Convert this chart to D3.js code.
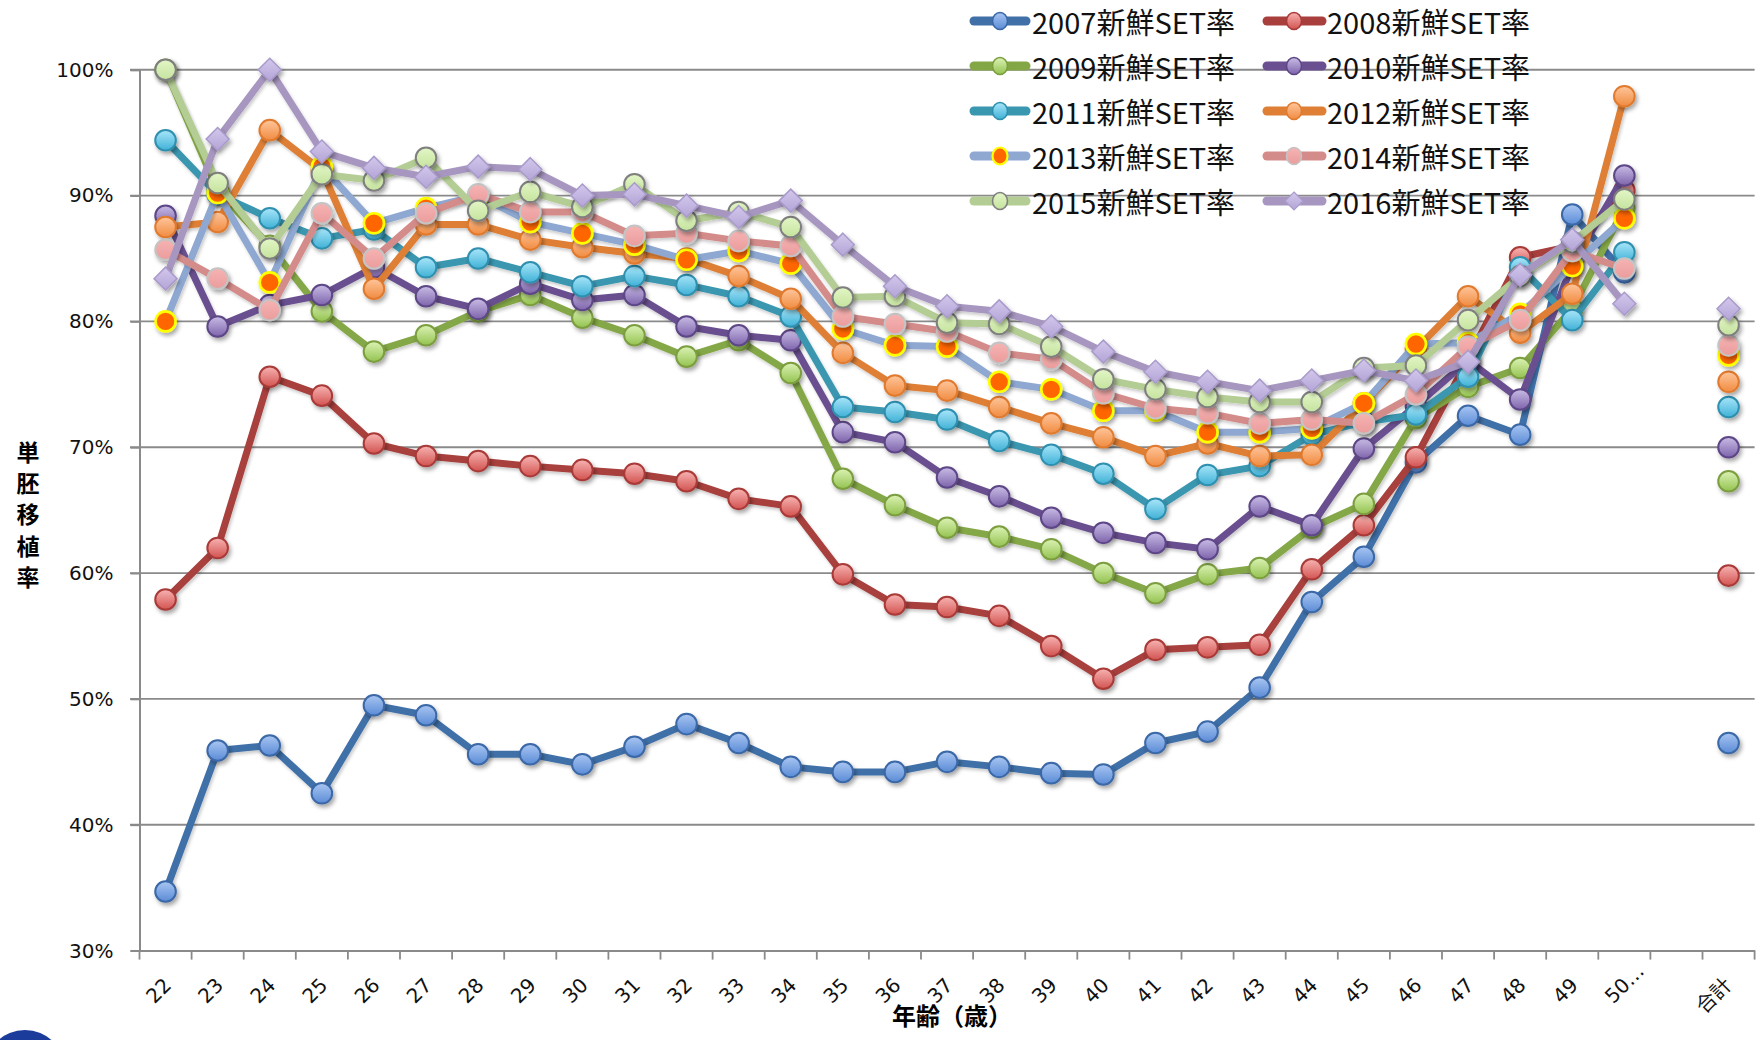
<!DOCTYPE html>
<html><head><meta charset="utf-8">
<script src="https://cdn.jsdelivr.net/npm/d3@7"></script>
<style>body{margin:0;background:#fff;}</style></head>
<body><svg id="c" width="1764" height="1040"></svg>
<script>
// ---- data ----
const categories = ["22","23","24","25","26","27","28","29","30","31","32","33","34","35","36","37","38","39","40","41","42","43","44","45","46","47","48","49","50…","","合計"];
const yTicks = [30,40,50,60,70,80,90,100];
const seriesNames = ["2007新鮮SET率","2008新鮮SET率","2009新鮮SET率","2010新鮮SET率","2011新鮮SET率","2012新鮮SET率","2013新鮮SET率","2014新鮮SET率","2015新鮮SET率","2016新鮮SET率"];

const s2007 = [34.7,45.9,46.3,42.5,49.5,48.7,45.6,45.6,44.8,46.2,48.0,46.5,44.6,44.2,44.2,45.0,44.6,44.1,44.0,46.5,47.4,50.9,57.7,61.3,68.8,72.5,71.0,88.5,83.9];
const s2008 = [57.9,62.0,75.6,74.1,70.3,69.3,68.9,68.5,68.2,67.9,67.3,65.9,65.3,59.9,57.5,57.3,56.6,54.2,51.6,53.9,54.1,54.3,60.3,63.8,69.2,77.0,85.1,86.0,90.4];
const s2009 = [100,90.4,86.0,80.8,77.6,78.9,80.8,82.1,80.3,78.9,77.2,78.5,75.9,67.5,65.4,63.6,62.9,61.9,60.0,58.4,59.9,60.4,63.6,65.5,72.3,74.8,76.3,81.0,89.0];
const s2010 = [88.4,79.6,81.3,82.1,84.3,82.0,81.0,83.0,81.7,82.1,79.6,78.9,78.5,71.2,70.4,67.6,66.1,64.4,63.2,62.4,61.9,65.3,63.8,69.9,73.3,76.9,73.8,84.5,91.6];
const s2011 = [94.4,90.1,88.2,86.6,87.3,84.3,85.0,83.9,82.8,83.6,82.9,82.0,80.4,73.2,72.8,72.2,70.5,69.4,67.9,65.1,67.8,68.5,71.0,72.0,72.6,75.6,84.3,80.1,85.5];
const s2012 = [87.5,87.9,95.2,92.0,82.6,87.7,87.7,86.5,85.9,85.4,85.0,83.6,81.8,77.5,74.9,74.5,73.2,71.9,70.8,69.3,70.3,69.3,69.4,73.5,77.8,82.0,79.1,82.2,97.9];
const s2013 = [80.0,90.2,83.1,92.3,87.8,89.0,90.0,87.9,87.0,86.1,84.9,85.6,84.6,79.4,78.1,78.0,75.2,74.6,72.9,72.9,71.2,71.2,71.5,73.5,78.2,78.3,80.6,84.4,88.2];
const s2014 = [85.7,83.4,80.9,88.6,85.0,88.6,90.1,88.7,88.7,86.8,87.0,86.4,86.0,80.4,79.8,79.2,77.5,77.0,74.3,73.1,72.7,71.9,72.2,71.9,74.2,78.0,80.1,85.6,84.2];
const s2015 = [100,91.0,85.8,91.7,91.2,93.0,88.8,90.3,89.1,90.9,88.0,88.7,87.5,81.9,82.0,79.9,79.8,78.0,75.4,74.6,74.0,73.6,73.6,76.3,76.5,80.1,83.6,86.3,89.7];
const s2016 = [83.4,94.5,100,93.5,92.2,91.5,92.3,92.1,90.0,90.1,89.2,88.3,89.6,86.1,82.8,81.2,80.8,79.6,77.6,76.0,75.2,74.5,75.3,76.1,75.3,76.8,83.7,86.5,81.4];
const totals = [46.5,59.8,67.3,70.0,73.2,75.2,77.3,78.1,79.7,81.0];

// ---- styles ----
const styles = [
  {line:"#4170a8", top:"#a9c6f2", bot:"#5a8bd6", stroke:"#3a67a6", shape:"circle"},
  {line:"#a83f3c", top:"#f7b4b3", bot:"#d2524f", stroke:"#a83a38", shape:"circle"},
  {line:"#84a746", top:"#dcf3b5", bot:"#93c24f", stroke:"#7b9e3f", shape:"circle"},
  {line:"#6a5090", top:"#c9bde6", bot:"#7d63ab", stroke:"#5d4686", shape:"circle"},
  {line:"#3a97b0", top:"#a9e6fa", bot:"#3fb1d6", stroke:"#2f8fae", shape:"circle"},
  {line:"#de7f35", top:"#ffc69c", bot:"#f08b40", stroke:"#e07a2e", shape:"circle"},
  {line:"#8ea8d1", top:"#ff6600", bot:"#ff6600", stroke:"#ffff00", shape:"circle"},
  {line:"#d48c8b", top:"#f6b3b3", bot:"#eb9c9c", stroke:"#c4c4c4", shape:"circle"},
  {line:"#b4cd94", top:"#e3f6c6", bot:"#c5e39e", stroke:"#7f7f7f", shape:"circle"},
  {line:"#a796c0", top:"#d3c8ec", bot:"#b3a4d6", stroke:"#a99bcb", shape:"diamond"}
];

const allVals = [s2007,s2008,s2009,s2010,s2011,s2012,s2013,s2014,s2015,s2016];
const series = seriesNames.map((n,i)=>({name:n, values: allVals[i].concat([null, totals[i]]), st: styles[i], idx:i}));

const svg = d3.select("#c");
const defs = svg.append("defs");
const f = defs.append("filter").attr("id","sh").attr("x","-50%").attr("y","-50%").attr("width","200%").attr("height","200%");
f.append("feDropShadow").attr("dx",2).attr("dy",3).attr("stdDeviation",2).attr("flood-color","#000").attr("flood-opacity",0.35);
const fl = defs.append("filter").attr("id","shl").attr("x","-10%").attr("y","-10%").attr("width","120%").attr("height","120%");
fl.append("feDropShadow").attr("dx",1.5).attr("dy",2.5).attr("stdDeviation",1.5).attr("flood-color","#000").attr("flood-opacity",0.2);
series.forEach(s=>{
  const g = defs.append("linearGradient").attr("id","g"+s.idx).attr("x1",0).attr("y1",0).attr("x2",0).attr("y2",1);
  g.append("stop").attr("offset","0%").attr("stop-color",s.st.top);
  g.append("stop").attr("offset","100%").attr("stop-color",s.st.bot);
});

const x = d3.scaleBand().domain(categories).range([139.5, 1754.6]).paddingInner(0).paddingOuter(0);
const xc = c => x(c) + x.bandwidth()/2;
const y = d3.scaleLinear().domain([30,100]).range([950.6, 69.75]);
const axisCol = "#8a8a8a";

// gridlines
svg.append("g").selectAll("line").data(yTicks.filter(t=>t>30)).join("line")
  .attr("x1",130).attr("x2",x.range()[1]).attr("y1",d=>y(d)).attr("y2",d=>y(d))
  .attr("stroke",axisCol).attr("stroke-width",1.8);

// y axis
const ya = svg.append("g").attr("transform","translate(139.5,0)")
  .call(d3.axisLeft(y).tickValues(yTicks).tickSize(9).tickPadding(17).tickFormat(d=>d+"%"));
ya.select(".domain").attr("stroke",axisCol).attr("stroke-width",2);
ya.selectAll(".tick line").attr("stroke",axisCol).attr("stroke-width",1.8);
ya.selectAll(".tick text").attr("font-family","DejaVu Sans, Verdana, sans-serif").attr("font-size",20).attr("fill","#111");

// x axis
const xa = svg.append("g").attr("transform","translate(0,"+y(30)+")")
  .call(d3.axisBottom(x).tickSize(0).tickSizeOuter(0).tickFormat(""));
xa.select(".domain").attr("stroke",axisCol).attr("stroke-width",2);
const bounds = categories.map(c=>x(c)).concat([x.range()[1]]);
xa.append("g").selectAll("line").data(bounds).join("line")
  .attr("x1",d=>d).attr("x2",d=>d).attr("y1",0).attr("y2",9)
  .attr("stroke",axisCol).attr("stroke-width",1.8);
const isCJK = d => /[\u3000-\u9fff]/.test(d);
xa.append("g").selectAll("text").data(categories).join("text")
  .attr("transform",d=>isCJK(d) ? "translate("+(xc(d)-30)+",58) rotate(-45)" : "translate("+(xc(d)-16)+",49) rotate(-45)")
  .attr("text-anchor","start").attr("dominant-baseline","central")
  .attr("font-family",d=>isCJK(d)?"Noto Sans CJK JP, sans-serif":"DejaVu Sans, Verdana, sans-serif")
  .attr("font-size",20).attr("fill","#111").text(d=>d);

// axis titles
svg.append("text").attr("x",952).attr("y",1025).attr("text-anchor","middle")
  .attr("font-family","Noto Sans CJK JP, sans-serif").attr("font-weight","bold").attr("font-size",24).attr("fill","#000")
  .text("年齢（歳）");
const yt = svg.append("text").attr("font-family","Noto Sans CJK JP, sans-serif").attr("font-weight","bold").attr("font-size",23).attr("fill","#000").attr("text-anchor","middle");
"単胚移植率".split("").forEach((ch,i)=>{
  yt.append("tspan").attr("x",28).attr("y",451+i*31.2).attr("dominant-baseline","central").text(ch);
});

// lines
const line = d3.line().defined(d=>d.v!=null).x(d=>xc(d.c)).y(d=>y(d.v));
const lg = svg.append("g");
series.forEach(s=>{
  const pts = s.values.map((v,i)=>({c:categories[i], v:v}));
  lg.append("path").datum(pts).attr("d",line).attr("fill","none")
    .attr("stroke",s.st.line).attr("stroke-width",7).attr("stroke-linejoin","round").attr("stroke-linecap","butt")
    .attr("filter","url(#shl)");
  const mg = lg.append("g").attr("filter","url(#sh)");
  const mp = pts.filter(d=>d.v!=null);
  if (s.st.shape==="diamond") {
    mg.selectAll("path").data(mp).join("path")
      .attr("d",d=>{const cx=xc(d.c), cy=y(d.v), r=11.5; return `M${cx},${cy-r}L${cx+r},${cy}L${cx},${cy+r}L${cx-r},${cy}Z`;})
      .attr("fill","url(#g"+s.idx+")").attr("stroke",s.st.stroke).attr("stroke-width",1.5);
  } else {
    mg.selectAll("circle").data(mp).join("circle")
      .attr("cx",d=>xc(d.c)).attr("cy",d=>y(d.v)).attr("r",s.idx===6?10:10.3)
      .attr("fill","url(#g"+s.idx+")").attr("stroke",s.st.stroke).attr("stroke-width",s.idx===6?2.6:2);
  }
});

// legend
const cols = [{x1:974,x2:1026,mx:1000,tx:1032},{x1:1267,x2:1322,mx:1294,tx:1327}];
const leg = svg.append("g");
series.forEach((s,i)=>{
  const c = cols[i%2], yy = 21 + 45*Math.floor(i/2);
  const g = leg.append("g");
  g.append("line").attr("x1",c.x1).attr("x2",c.x2).attr("y1",yy).attr("y2",yy)
    .attr("stroke",s.st.line).attr("stroke-width",9).attr("stroke-linecap","round");
  if (s.st.shape==="diamond") {
    const r=9;
    g.append("path").attr("d",`M${c.mx},${yy-r}L${c.mx+r},${yy}L${c.mx},${yy+r}L${c.mx-r},${yy}Z`)
      .attr("fill","url(#g"+s.idx+")").attr("stroke",s.st.stroke).attr("stroke-width",1.2);
  } else {
    g.append("ellipse").attr("cx",c.mx).attr("cy",yy).attr("rx",7.5).attr("ry",8.5)
      .attr("fill","url(#g"+s.idx+")").attr("stroke",s.st.stroke).attr("stroke-width",s.idx===6?2.2:1.6);
  }
  g.append("text").attr("x",c.tx).attr("y",yy).attr("dominant-baseline","central")
    .attr("font-family","Noto Sans CJK JP, sans-serif").attr("font-size",29).attr("fill","#111").text(s.name);
});

// corner logo fragment
svg.append("circle").attr("cx",25).attr("cy",1070).attr("r",40).attr("fill","#1c3c9c");
</script>
</body></html>
